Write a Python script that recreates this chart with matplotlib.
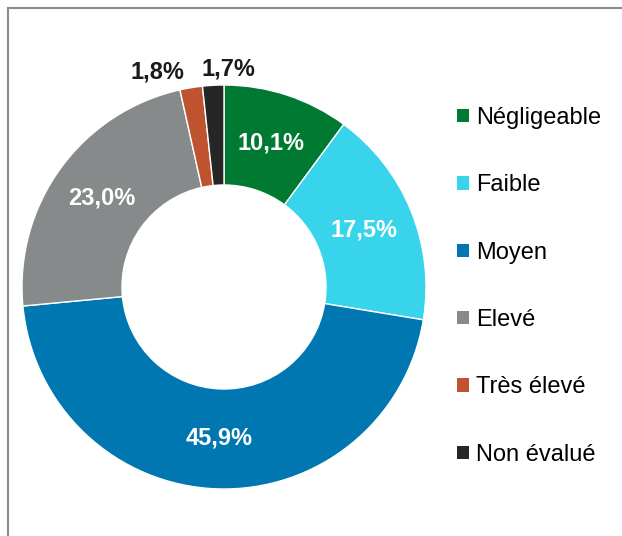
import matplotlib.pyplot as plt
from matplotlib.patches import Patch
from matplotlib.lines import Line2D
import numpy as np

plt.rcParams['font.family'] = ['Liberation Sans', 'DejaVu Sans']

categories = ["Négligeable", "Faible", "Moyen", "Elevé", "Très élevé", "Non évalué"]
values = [10.1, 17.5, 45.9, 23.0, 1.8, 1.7]
labels = ["10,1%", "17,5%", "45,9%", "23,0%", "1,8%", "1,7%"]
colors = ["#007A33", "#38D4EC", "#0077B0", "#878A8A", "#C0532F", "#262626"]
outside = [False, False, False, False, True, True]
outside_offset = [0, 0, 0, 0, -22, 12]  # points, horizontal nudge for small slices

fig = plt.figure(figsize=(6.22, 5.36), dpi=100)
ax = fig.add_axes([22 / 622, 47 / 536, 404 / 622, 404 / 536])

wedges, _ = ax.pie(values, colors=colors, startangle=90, counterclock=False,
                   radius=1, wedgeprops=dict(width=0.495, edgecolor='white', linewidth=1))
ax.set_xlim(-1, 1)
ax.set_ylim(-1, 1)
ax.set_aspect('equal')
ax.axis('off')

for w, lab, out, off in zip(wedges, labels, outside, outside_offset):
    ang = np.deg2rad((w.theta1 + w.theta2) / 2)
    if out:
        r = 1.1
        ax.annotate(lab, (r * np.cos(ang), r * np.sin(ang)), xytext=(off, -3),
                    textcoords='offset points', ha='center', va='center',
                    fontsize=17, fontweight='bold', color='#1a1a1a',
                    annotation_clip=False)
    else:
        r = 0.75
        ax.text(r * np.cos(ang), r * np.sin(ang), lab, ha='center', va='center',
                fontsize=17, fontweight='bold', color='white')

handles = [Patch(facecolor=c, edgecolor='none') for c in colors]
fig.legend(handles, categories, loc='upper left', bbox_to_anchor=(457 / 622, 1 - 107 / 536),
           frameon=False, fontsize=17, handlelength=0.5, handleheight=0.5,
           handletextpad=0.3, labelspacing=1.92, borderaxespad=0, borderpad=0)

# frame lines (top and left only visible)
fig.add_artist(Line2D([8 / 622, 1], [1 - 7.5 / 536, 1 - 7.5 / 536], color='#8c8c8c', lw=1.5))
fig.add_artist(Line2D([8 / 622, 8 / 622], [0, 1 - 7.5 / 536], color='#8c8c8c', lw=1.5))

fig.savefig("out.png", dpi=100)
